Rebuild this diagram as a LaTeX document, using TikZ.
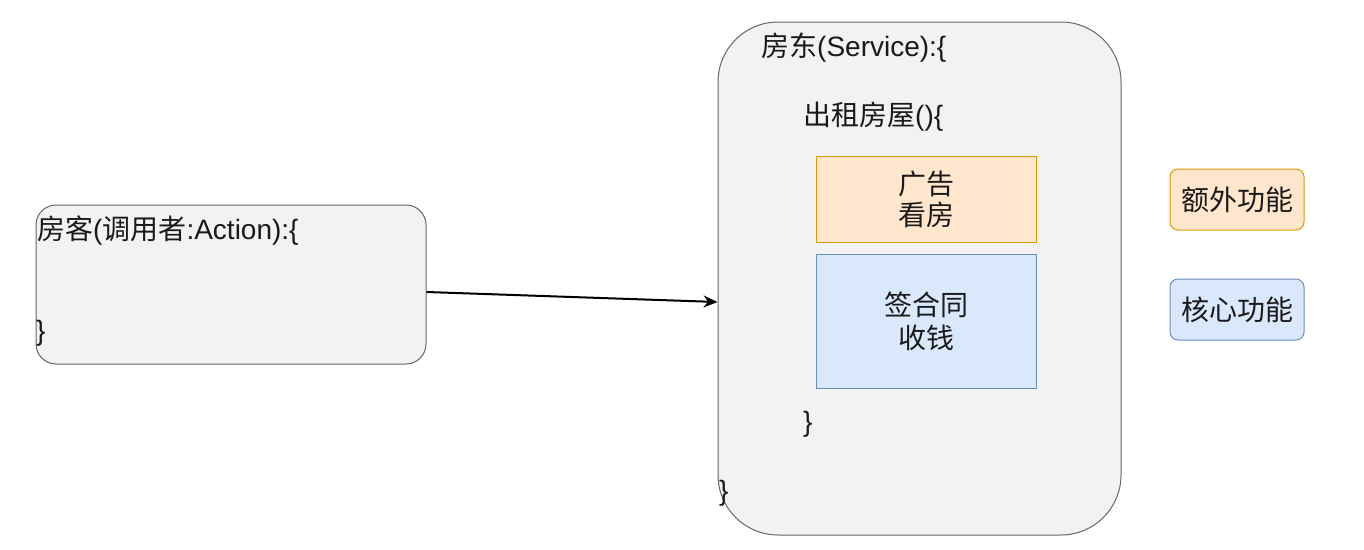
\documentclass[tikz,border=0pt]{standalone}
\usepackage{fontspec}
\setmainfont{Liberation Sans}
\newfontfamily\cjk{Noto Sans CJK SC}
\usetikzlibrary{arrows.meta}
\definecolor{boxgray}{HTML}{F2F2F2}
\definecolor{boxline}{HTML}{666666}
\definecolor{orfill}{HTML}{FFE6CC}
\definecolor{orline}{HTML}{D79B00}
\definecolor{blfill}{HTML}{DAE8FC}
\definecolor{blline}{HTML}{6C8EBF}
\definecolor{txt}{HTML}{1A1A1A}
\tikzset{
  graybox/.style={draw=boxline, fill=boxgray, line width=1pt},
  label/.style={inner sep=0pt, anchor=west, text=txt, font=\fontsize{28}{31}\selectfont},
  orbox/.style={draw=orline, fill=orfill, line width=1pt, minimum width=220pt, minimum height=86pt, align=center, text=txt, font=\fontsize{28}{31}\selectfont\cjk},
  blbox/.style={draw=blline, fill=blfill, line width=1pt, minimum width=220pt, minimum height=134pt, align=center, text=txt, font=\fontsize{28}{33}\selectfont\cjk},
  legend/.style={rounded corners=8pt, line width=1pt, minimum width=134pt, minimum height=61pt, inner sep=0pt, text=txt, font=\fontsize{28}{31}\selectfont\cjk},
}
\begin{document}
\begin{tikzpicture}[x=1pt,y=-1pt]
\useasboundingbox (0,0) rectangle (1364,549);
% left box
\node[graybox, rounded corners=20pt, minimum width=390pt, minimum height=159pt, inner sep=0pt] (lbox) at (231,284.5) {};
\node[label] (ltitle) at (37,231) {{\cjk 房客}({\cjk 调用者}:Action):\{};
\node[label] (lend) at (36,333) {\}};
% right box
\node[graybox, rounded corners=60pt, minimum width=403pt, minimum height=513pt, inner sep=0pt] (rbox) at (919.5,278.5) {};
\node[label] (rtitle) at (761,48) {{\cjk 房东}(Service):\{};
\node[label] (meth) at (803,117) {{\cjk 出租房屋}()\{};
\node[orbox] (extra) at (926,199) {广告\\看房};
\node[blbox] (core) at (926,321) {签合同\\收钱};
\node[label] (mend) at (803,424) {\}};
\node[label] (rend) at (719,493) {\}};
% legend
\node[legend, draw=orline, fill=orfill] (lg1) at (1237,199.5) {额外功能};
\node[legend, draw=blline, fill=blfill] (lg2) at (1237,309.5) {核心功能};
% arrow
\draw[line width=2pt, -{Stealth[length=14pt,width=12pt]}] ([yshift=-7.5pt]lbox.east) -- ([yshift=-23.5pt]rbox.west);
\end{tikzpicture}
\end{document}
